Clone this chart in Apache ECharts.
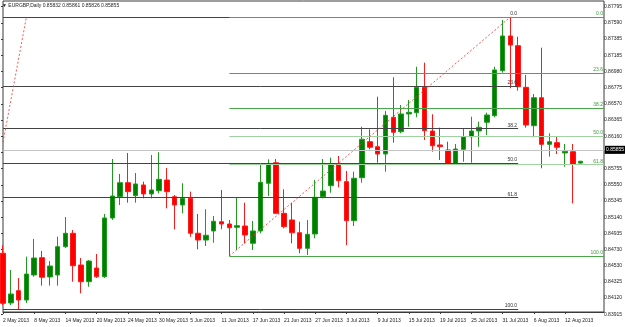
<!DOCTYPE html>
<html>
<head>
<meta charset="utf-8">
<title>EURGBP,Daily</title>
<script src="https://cdn.jsdelivr.net/npm/echarts@6/dist/echarts.min.js"></script>
<style>
	html, body { margin: 0; padding: 0; background: #fff; }
	#main { width: 625px; height: 327px; }
</style>
</head>
<body>
<div id="main"></div>
<script>
var dates = [
	'2 May 2013','3 May 2013','6 May 2013','7 May 2013','8 May 2013','9 May 2013','10 May 2013',
	'13 May 2013','14 May 2013','15 May 2013','16 May 2013','17 May 2013','20 May 2013','21 May 2013',
	'22 May 2013','23 May 2013','24 May 2013','27 May 2013','28 May 2013','29 May 2013','30 May 2013',
	'31 May 2013','3 Jun 2013','4 Jun 2013','5 Jun 2013','6 Jun 2013','7 Jun 2013','10 Jun 2013',
	'11 Jun 2013','12 Jun 2013','13 Jun 2013','14 Jun 2013','17 Jun 2013','18 Jun 2013','19 Jun 2013',
	'20 Jun 2013','21 Jun 2013','24 Jun 2013','25 Jun 2013','26 Jun 2013','27 Jun 2013','28 Jun 2013',
	'1 Jul 2013','2 Jul 2013','3 Jul 2013','4 Jul 2013','5 Jul 2013','8 Jul 2013','9 Jul 2013',
	'10 Jul 2013','11 Jul 2013','12 Jul 2013','15 Jul 2013','16 Jul 2013','17 Jul 2013','18 Jul 2013',
	'19 Jul 2013','22 Jul 2013','23 Jul 2013','24 Jul 2013','25 Jul 2013','26 Jul 2013','29 Jul 2013',
	'30 Jul 2013','31 Jul 2013','1 Aug 2013','2 Aug 2013','5 Aug 2013','6 Aug 2013','7 Aug 2013',
	'8 Aug 2013','9 Aug 2013','12 Aug 2013','13 Aug 2013','14 Aug 2013'
];
// empty slots right of the last bar (chart shift)
var futureDates = ['15 Aug 2013','16 Aug 2013','19 Aug 2013'];

var opens = [
	0.84695,0.84068,0.84223,0.84105,0.84421,0.84639,0.84396,0.84421,0.84778,0.84947,
	0.84547,0.84336,0.84509,0.84399,0.85140,0.85408,0.85585,0.85421,0.85556,0.85443,
	0.85484,0.85619,0.85408,0.85304,0.85388,0.84947,0.84862,0.84976,0.85093,0.85064,
	0.85022,0.85039,0.84821,0.84976,0.85578,0.85837,0.85199,0.85115,0.84954,0.84757,
	0.84938,0.85408,0.85547,0.85817,0.85598,0.85106,0.85648,0.86102,0.86039,0.85947,
	0.86410,0.86228,0.86452,0.86468,0.86788,0.86237,0.86061,0.85998,0.85817,0.86006,
	0.86165,0.86237,0.86347,0.86430,0.86998,0.87436,0.87313,0.86788,0.86304,0.86657,
	0.86069,0.86090,0.85960,0.85976,0.85832
];
var closes = [
	0.84064,0.84181,0.84105,0.84433,0.84635,0.84392,0.84534,0.84778,0.84947,0.84538,
	0.84336,0.84597,0.84399,0.85140,0.85417,0.85585,0.85472,0.85569,0.85443,0.85493,
	0.85628,0.85472,0.85304,0.85388,0.84947,0.84862,0.84922,0.85098,0.85064,0.85017,
	0.85043,0.84925,0.84976,0.85590,0.85817,0.85199,0.85030,0.84954,0.84757,0.84934,
	0.85401,0.85480,0.85817,0.85610,0.85106,0.85641,0.86133,0.86032,0.85947,0.86435,
	0.86221,0.86452,0.86473,0.86788,0.86241,0.86052,0.86039,0.85817,0.86010,0.86165,
	0.86237,0.86284,0.86439,0.87007,0.87436,0.87322,0.86796,0.86313,0.86657,0.86069,
	0.86102,0.86032,0.85981,0.85821,0.85855
];
var lows = [
	0.84042,0.84042,0.83979,0.84068,0.84399,0.84286,0.84286,0.84286,0.84761,0.84336,
	0.84190,0.84273,0.84383,0.84383,0.85115,0.85304,0.85333,0.85333,0.85388,0.85388,
	0.85451,0.85262,0.84997,0.85199,0.84904,0.84745,0.84787,0.84828,0.84997,0.84660,
	0.84736,0.84821,0.84736,0.84947,0.85417,0.85190,0.85010,0.84821,0.84695,0.84673,
	0.84884,0.85388,0.85459,0.85527,0.84799,0.85039,0.85585,0.86006,0.85837,0.85724,
	0.86090,0.86208,0.86291,0.86410,0.86124,0.85976,0.85871,0.85808,0.85808,0.85850,
	0.85837,0.86039,0.86187,0.86410,0.86973,0.86776,0.86746,0.86279,0.86158,0.85767,
	0.85913,0.85947,0.85787,0.85325,0.85826
];
var highs = [
	0.84799,0.84484,0.84383,0.84652,0.84875,0.84724,0.84597,0.84904,0.85152,0.84988,
	0.84635,0.84610,0.84686,0.85190,0.85884,0.85695,0.85960,0.85707,0.85598,0.85934,
	0.85969,0.85770,0.85430,0.85578,0.85472,0.85190,0.85250,0.85165,0.85493,0.85115,
	0.85401,0.85333,0.85102,0.85808,0.85880,0.85884,0.85502,0.85333,0.85093,0.85115,
	0.85619,0.85884,0.85900,0.85922,0.85733,0.85724,0.86291,0.86259,0.86670,0.86489,
	0.86915,0.86565,0.86628,0.87048,0.87099,0.86448,0.86279,0.86102,0.86073,0.86271,
	0.86418,0.86355,0.86468,0.87048,0.87637,0.87671,0.87427,0.86944,0.86704,0.87288,
	0.86208,0.86174,0.86073,0.86073,0.85861
];

// right scale labels, bottom to top
var priceLabels = [
	'0.83915','0.84120','0.84325','0.84530','0.84730','0.84935','0.85140','0.85345','0.85550','0.85755',
	'0.85955','0.86160','0.86365','0.86570','0.86775','0.86980','0.87185','0.87385','0.87590','0.87795'
];
var priceBottom = 0.83954;
var priceTop = 0.87877;
var bidPrice = 0.85855;

// fibonacci retracements: anchors given as [bar index, price]
var fibRatios = [0, 23.6, 38.2, 50.0, 61.8, 100.0];
var blackFib = { low: [-4, 0.83986], high: [3, 0.87675], from: 0, to: 66 };
var greenFib = { low: [29, 0.84660], high: [65, 0.87675], from: 29, to: 77 };

var fontFam = "'Liberation Sans Narrow', 'Liberation Sans', Arial, sans-serif";
var smallFont = 5;

function fibLevels(fib, lineColor, textColor) {
	var out = [];
	fibRatios.forEach(function(r){
		var p = fib.high[1] - (fib.high[1] - fib.low[1]) * r / 100;
		var lc = lineColor;
		if(lineColor != '#444' && (r == 50 || r == 61.8)) {
			lc = '#9fd39f';
		}
		out.push([
			{
				coord: [fib.from, p],
				lineStyle: { color: lc, width: 1, type: 'solid' },
				label: {
					show: true, position: 'insideEndTop', distance: 1,
					formatter: r.toFixed(1), color: textColor,
					fontSize: smallFont, fontFamily: fontFam
				}
			},
			{ coord: [fib.to, p] }
		]);
	});
	return out;
}

function diagonal(fib) {
	var x0 = fib.low[0], p0 = fib.low[1];
	if(x0 < 0) {
		// cut at the left edge of the chart
		p0 = fib.low[1] + (fib.high[1] - fib.low[1]) * (0 - fib.low[0]) / (fib.high[0] - fib.low[0]);
		x0 = 0;
	}
	return [
		{
			coord: [x0, p0],
			lineStyle: { color: '#f23b3b', width: 1, type: [2, 2], opacity: 0.85 },
			label: { show: false }
		},
		{ coord: [fib.high[0], fib.high[1]] }
	];
}

var candles = dates.map(function(d, i){
	return [opens[i], closes[i], lows[i], highs[i]];
});
var last = dates.length - 1;

var markData = []
	.concat(fibLevels(blackFib, '#444', '#333'))
	.concat(fibLevels(greenFib, '#4aa64a', '#3c9a3c'))
	.concat([diagonal(blackFib), diagonal(greenFib)])
	.concat([{
		yAxis: bidPrice,
		lineStyle: { color: '#c4c4c4', width: 1, type: 'solid' },
		label: {
			show: true, position: 'end', distance: 1,
			formatter: bidPrice.toFixed(5),
			color: '#fff', backgroundColor: '#000',
			padding: [2, 1, 1, 1], fontSize: smallFont, fontFamily: fontFam
		}
	}]);

var showDate = function(index){
	return index % 4 === 0 && index < dates.length - 1;
};

var myChart = echarts.init(document.getElementById('main'));
myChart.setOption({
	animation: false,
	backgroundColor: '#fff',
	title: {
		text: '\u25BC EURGBP,Daily ' + opens[last].toFixed(5) + ' ' + highs[last].toFixed(5) + ' ' +
			lows[last].toFixed(5) + ' ' + closes[last].toFixed(5),
		left: 2, top: 3, padding: 0,
		textStyle: { fontSize: smallFont, fontWeight: 'normal', color: '#222', fontFamily: fontFam }
	},
	grid: [
		{ left: 1, right: 21, top: 1, bottom: 15, show: true, borderColor: '#3a3a3a', borderWidth: 1 },
		{ left: 1, right: 21, top: 6.7, bottom: 12.7 }
	],
	xAxis: [
		{
			type: 'category',
			gridIndex: 0,
			data: dates.concat(futureDates),
			boundaryGap: false,
			axisLine: { show: true, lineStyle: { color: '#3a3a3a' } },
			axisTick: { show: true, length: 2, interval: showDate, lineStyle: { color: '#3a3a3a' } },
			axisLabel: {
				interval: showDate, align: 'left', margin: 6,
				fontSize: smallFont, color: '#222', fontFamily: fontFam
			},
			splitLine: { show: false }
		},
		{ type: 'value', gridIndex: 1, show: false, min: 0, max: 1 }
	],
	yAxis: [
		{
			type: 'value',
			gridIndex: 0,
			position: 'right',
			min: priceBottom,
			max: priceTop,
			axisLine: { show: false },
			axisTick: { show: false },
			axisLabel: { show: false },
			splitLine: { show: false }
		},
		{
			type: 'value',
			gridIndex: 1,
			position: 'right',
			min: 0,
			max: priceLabels.length - 1,
			interval: 1,
			axisLine: { show: false },
			axisTick: { show: true, length: 2, lineStyle: { color: '#3a3a3a' } },
			axisLabel: {
				margin: 3, fontSize: smallFont, color: '#222', fontFamily: fontFam,
				formatter: function(v){ return priceLabels[v] || ''; }
			},
			splitLine: { show: false }
		}
	],
	series: [
		{
			type: 'candlestick',
			xAxisIndex: 0,
			yAxisIndex: 0,
			barWidth: 5,
			data: candles,
			itemStyle: {
				color: '#008000',
				color0: '#ff0000',
				borderColor: '#1f9a1f',
				borderColor0: '#ff1a1a',
				borderWidth: 1
			},
			markLine: {
				silent: true,
				symbol: ['none', 'none'],
				animation: false,
				data: markData
			}
		}
	]
});
</script>
</body>
</html>
